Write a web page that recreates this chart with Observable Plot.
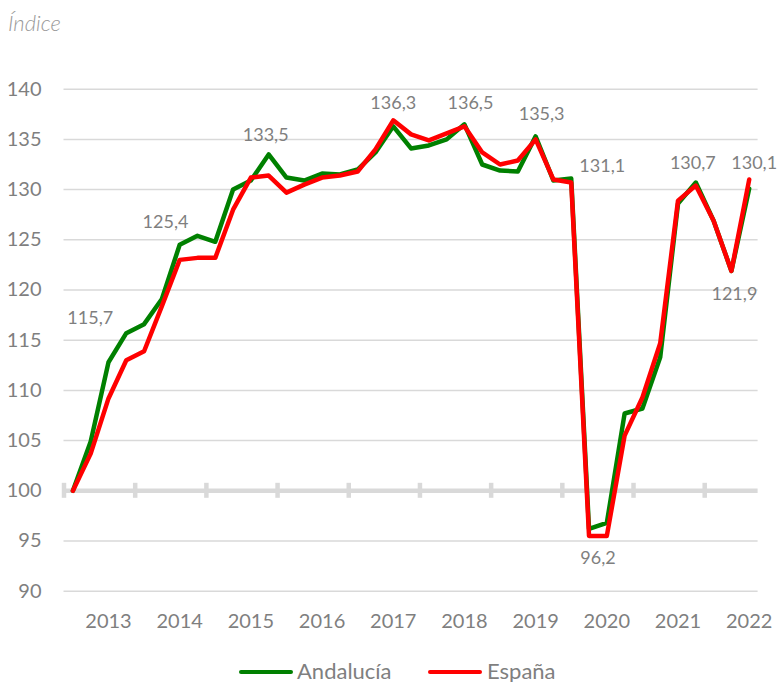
<!DOCTYPE html>
<html>
<head>
<meta charset="utf-8">
<script src="https://cdn.jsdelivr.net/npm/d3@7"></script>
<script src="https://cdn.jsdelivr.net/npm/@observablehq/plot@0.6"></script>
<style>
  body { margin: 0; background: #fff; font-family: Lato, sans-serif; }
  #wrap { position: relative; width: 779px; height: 682px; overflow: hidden; }
  #title { position: absolute; left: 8px; top: 11.5px; font-size: 22px; line-height: 22px; font-style: italic; font-weight: 300; color: #9a9a9a; }
  .leg { position: absolute; font-size: 22px; line-height: 22px; color: #7f7f7f; white-space: nowrap; }
  .sw { position: absolute; height: 4.5px; border-radius: 2px; }
  svg { position: absolute; left: 0; top: 0; }
</style>
</head>
<body>
<div id="wrap">
  <div id="title">Índice</div>
</div>
<script>
// ---- data (quarterly index, first point = 100) ----
const andalucia = [100, 104.9, 112.8, 115.7, 116.6, 119.1, 124.5, 125.4, 124.8, 130.0,
  130.9, 133.5, 131.2, 130.9, 131.6, 131.5, 132.0, 133.7, 136.3, 134.1,
  134.4, 135.0, 136.5, 132.5, 131.9, 131.8, 135.3, 130.9, 131.1, 96.2,
  96.8, 107.7, 108.2, 113.3, 128.6, 130.7, 126.9, 121.9, 130.1];
const espana = [100, 103.7, 109.2, 113.0, 113.9, 118.4, 123.0, 123.2, 123.2, 128.0,
  131.2, 131.4, 129.7, 130.5, 131.2, 131.4, 131.8, 134.0, 136.9, 135.5,
  134.9, 135.6, 136.3, 133.7, 132.5, 132.9, 135.0, 131.0, 130.7, 95.5,
  95.5, 105.5, 109.3, 114.7, 128.9, 130.4, 126.9, 121.9, 131.0];
const yearLabels = ["2013", "2014", "2015", "2016", "2017", "2018", "2019", "2020", "2021", "2022"];
const yearLabelIndex = [2, 6, 10, 14, 18, 22, 26, 30, 34, 38];
const yTicks = [90, 95, 100, 105, 110, 115, 120, 125, 130, 135, 140];
const labelIndex = [3, 7, 11, 18, 22, 26, 28, 29, 35, 37, 38];
const seriesNames = ["Andalucía", "España"];

// ---- build tables ----
const rows = [];
andalucia.forEach((v, i) => rows.push({i, v, s: seriesNames[0]}));
espana.forEach((v, i) => rows.push({i, v, s: seriesNames[1]}));
const yearBoundaries = [-0.5, ...yearLabelIndex.slice(0, -1).map(i => i + 1.5)];
const fmt = v => d3.format(".1f")(v).replace(".", ",");

// label offsets (styling)
const offsets = {3: [-36, -15], 7: [-32, -14], 11: [-3, -19], 18: [0, -23], 22: [6, -21],
  26: [6, -22], 28: [31, -12], 29: [9, 29], 35: [-3, -19], 37: [3, 23], 38: [5, -25]};
const labelMarks = labelIndex.map(i => Plot.text([{i, v: andalucia[i]}], {
  x: "i", y: "v", text: d => fmt(d.v), dx: offsets[i][0], dy: offsets[i][1],
  fill: "#7f7f7f", fontSize: 18
}));

const colors = {"Andalucía": "#008000", "España": "#ff0000"};

const chart = Plot.plot({
  width: 779,
  height: 645,
  marginLeft: 63.5,
  marginRight: 21.4,
  marginTop: 88.7,
  marginBottom: 54.3,
  style: {fontFamily: "Lato, sans-serif", fontSize: "20px", color: "#7f7f7f", background: "transparent"},
  x: {domain: [-0.5, 38.5]},
  y: {domain: [90, 140]},
  marks: [
    Plot.gridY(yTicks.filter(t => t !== 100), {stroke: "#d9d9d9", strokeOpacity: 1, strokeWidth: 1.5}),
    Plot.ruleY([100], {stroke: "#d9d9d9", strokeWidth: 4.5}),
    Plot.ruleX(yearBoundaries, {x: d => d, y1: 100, y2: 100, insetTop: -7.5, insetBottom: -7.5, stroke: "#d9d9d9", strokeWidth: 4.5}),
    Plot.axisY(yTicks, {tickSize: 0, tickPadding: 22.5, tickFormat: d => d, label: null, fontSize: 20}),
    Plot.axisX(yearLabelIndex, {tickSize: 0, tickPadding: 23, tickFormat: (d, k) => yearLabels[yearLabelIndex.indexOf(d)], label: null, fontSize: 20}),
    Plot.line(rows.filter(r => r.s === seriesNames[0]), {x: "i", y: "v", stroke: colors["Andalucía"], strokeWidth: 4.5, strokeLinejoin: "round", strokeLinecap: "round"}),
    Plot.line(rows.filter(r => r.s === seriesNames[1]), {x: "i", y: "v", stroke: colors["España"], strokeWidth: 4.5, strokeLinejoin: "round", strokeLinecap: "round"}),
    ...labelMarks
  ]
});
const wrap = document.getElementById("wrap");
wrap.insertBefore(chart, wrap.firstChild);

// legend
const legendItems = [
  {name: seriesNames[0], sx: 239, tx: 297},
  {name: seriesNames[1], sx: 428, tx: 487}
];
legendItems.forEach(it => {
  const sw = document.createElement("div");
  sw.className = "sw";
  sw.style.left = it.sx + "px";
  sw.style.top = "669.75px";
  sw.style.width = "54px";
  sw.style.background = colors[it.name];
  wrap.appendChild(sw);
  const t = document.createElement("div");
  t.className = "leg";
  t.style.left = it.tx + "px";
  t.style.top = "659.5px";
  t.textContent = it.name;
  wrap.appendChild(t);
});
</script>
</body>
</html>
